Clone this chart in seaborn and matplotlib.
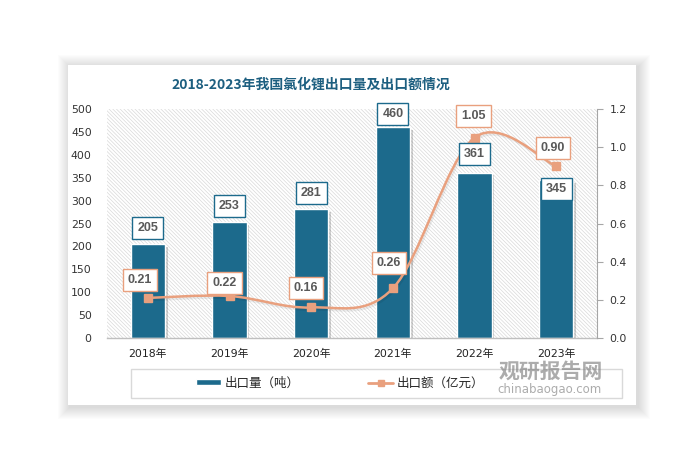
import numpy as np
import matplotlib
matplotlib.use('Agg')
import matplotlib.pyplot as plt
import seaborn as sns
from matplotlib.patches import Rectangle, Patch, PathPatch
from matplotlib.lines import Line2D
from matplotlib.path import Path
import matplotlib.patheffects as pe

# data
years = ['2018年', '2019年', '2020年', '2021年', '2022年', '2023年']
volume = [205, 253, 281, 460, 361, 345]          # 出口量（吨）
value = [0.21, 0.22, 0.16, 0.26, 1.05, 0.90]     # 出口额（亿元）
left_ticks = list(range(0, 501, 50))
right_ticks = [0.0, 0.2, 0.4, 0.6, 0.8, 1.0, 1.2]

# label offsets in pixels (dx, dy) relative to the mark
bar_label_dy = [16, 16.5, 16, 13, 18.5, -9]
line_label_off = [(-8, 18), (-5, 13.5), (-5, 19), (-4, 25.5), (-1, 22), (-3, 18)]

BAR_C = '#1c6a8c'
LINE_C = '#e9a07e'
W, H = 694, 467

sns.set_style('white')
plt.rcParams['font.family'] = ['DejaVu Sans', 'Noto Sans CJK SC']
plt.rcParams['hatch.linewidth'] = 0.5
plt.rcParams['hatch.color'] = '#d9d9d9'


def fx(x):
    return x / W


def fy(y):
    return 1 - y / H


fig = plt.figure(figsize=(W / 100, H / 100), dpi=100)
fig.patch.set_facecolor('white')

# card with soft shadow
for i in range(12, 0, -1):
    fig.add_artist(Rectangle((fx(68 - i + 2), fy(405 + i + 2)),
                             (636 - 68 + 2 * i) / W, (405 - 65 + 2 * i) / H,
                             transform=fig.transFigure, facecolor='#000000',
                             alpha=0.012, lw=0, zorder=-20))
fig.add_artist(Rectangle((fx(68), fy(405)), (636 - 68) / W, (405 - 65) / H,
                         transform=fig.transFigure, facecolor='white', lw=0, zorder=-10))

ax = fig.add_axes([fx(107), fy(338), (597 - 107) / W, (338 - 109) / H])
ax.set_facecolor('none')
ax.add_patch(Rectangle((0, 0), 1, 1, transform=ax.transAxes, facecolor='white',
                       edgecolor='#d9d9d9', hatch='\\' * 9, lw=0, zorder=0))

x = np.arange(len(years))
sns.barplot(x=years, y=volume, ax=ax, color=BAR_C, saturation=1, width=0.42,
            edgecolor='white', linewidth=1, zorder=2)
for bar in ax.patches[1:]:
    bar.set_path_effects([pe.SimplePatchShadow(offset=(2, -2), shadow_rgbFace='#000000', alpha=0.18),
                          pe.Normal()])

ax.set_xlim(-0.5, len(years) - 0.5)
ax.set_ylim(0, 500)
ax.set_yticks(left_ticks)
ax.set_xlabel('')
ax.set_ylabel('')
ax.tick_params(axis='y', length=0, pad=11, labelsize=7.8, labelcolor='#333333')
ax.tick_params(axis='x', length=0, pad=8, labelsize=7.8, labelcolor='#222222')
for s in ['top', 'left', 'right']:
    ax.spines[s].set_visible(False)
ax.spines['bottom'].set_color('#bfbfbf')
ax.spines['bottom'].set_linewidth(1)

ax2 = ax.twinx()
ax2.set_ylim(0, 1.2)
ax2.set_yticks(right_ticks)
ax2.set_yticklabels([f'{t:.1f}' for t in right_ticks])
ax2.tick_params(axis='y', length=4, width=0.8, color='#a6a6a6', pad=5,
                labelsize=7.8, labelcolor='#333333')
for s in ['top', 'left', 'bottom']:
    ax2.spines[s].set_visible(False)
ax2.spines['right'].set_color('#a6a6a6')
ax2.spines['right'].set_linewidth(0.8)

# smoothed line (Catmull-Rom style Bezier through the data points)
pts = np.column_stack([x, value]).astype(float)
verts = [pts[0]]
codes = [Path.MOVETO]
n = len(pts)
for i in range(n - 1):
    p0 = pts[i - 1] if i > 0 else pts[i]
    p1, p2 = pts[i], pts[i + 1]
    p3 = pts[i + 2] if i + 2 < n else pts[i + 1]
    verts += [p1 + (p2 - p0) / 6, p2 - (p3 - p1) / 6, p2]
    codes += [Path.CURVE4] * 3
curve = PathPatch(Path(verts, codes), facecolor='none', edgecolor=LINE_C, lw=1.8, zorder=3,
                  path_effects=[pe.SimpleLineShadow(offset=(1, -1.5), alpha=0.07), pe.Normal()])
ax2.add_patch(curve)
ax2.plot(x, value, ls='none', marker='s', ms=6, color=LINE_C, zorder=4)

# data labels
lab_kw = dict(textcoords='offset pixels', ha='center', va='center', fontsize=9,
              fontweight='bold', family='Liberation Sans', color='#595959', zorder=6)
for xi, v, dy in zip(x, volume, bar_label_dy):
    ax2.annotate(f'{v}', xy=(xi, v), xycoords=ax.transData, xytext=(0, dy),
                 bbox=dict(boxstyle='square,pad=0.4', fc='white', ec=BAR_C, lw=1), **lab_kw)
for xi, v, (dx, dy) in zip(x, value, line_label_off):
    ax2.annotate(f'{v:.2f}', xy=(xi, v), xytext=(dx, dy),
                 bbox=dict(boxstyle='square,pad=0.4', fc='white', ec=LINE_C, lw=1), **lab_kw)

# title
fig.text(fx(311), fy(85), '2018-2023年我国氯化锂出口量及出口额情况', ha='center', va='center',
         fontsize=10, fontweight='bold', color='#1d5f80', family=['Noto Sans CJK SC', 'DejaVu Sans'])

# legend
fig.add_artist(Rectangle((fx(131), fy(398)), (622 - 131) / W, (398 - 369) / H,
                         transform=fig.transFigure, facecolor='none', edgecolor='#d9d9d9', lw=1))
handles = [Patch(facecolor=BAR_C, label='出口量（吨）'),
           Line2D([], [], color=LINE_C, lw=2, marker='s', ms=5, label='出口额（亿元）')]
fig.legend(handles=handles, loc='center', bbox_to_anchor=(fx(340), fy(383)), ncol=2,
           frameon=False, handlelength=2.0, handleheight=0.4,
           handletextpad=0.3, columnspacing=5.5,
           prop={'family': ['Noto Sans CJK SC', 'DejaVu Sans'], 'size': 9})

# watermark
fig.text(fx(551), fy(371), '观研报告网', ha='center', va='center', fontsize=15,
         fontweight='bold', color='#808080', alpha=0.65, family=['Noto Sans CJK SC'])
fig.text(fx(550), fy(389), 'chinabaogao.com', ha='center', va='center', fontsize=8.5,
         color='#808080', alpha=0.65, family=['DejaVu Sans'])

fig.savefig('out.png', dpi=100)
